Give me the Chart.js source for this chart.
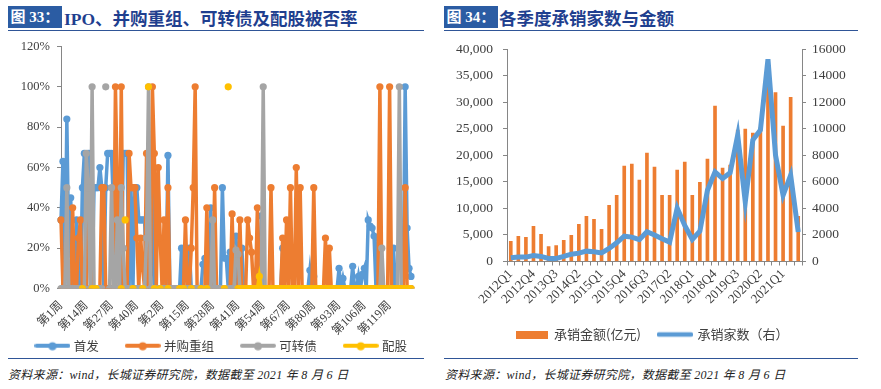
<!DOCTYPE html>
<html lang="zh-CN">
<head>
<meta charset="UTF-8">
<title>IPO、并购重组、可转债及配股被否率 / 各季度承销家数与金额</title>
<script src="https://cdn.jsdelivr.net/npm/chart.js"></script>
<style>
  body { margin: 0; width: 881px; height: 389px; background: #fff; position: relative; overflow: hidden; }
  .rotulo { position: absolute; top: 6px; width: 54px; height: 22px; background: #2b5ca3; color: #fff;
    font: bold 15px "Liberation Serif", "Noto Sans CJK SC", serif; line-height: 22px; text-align: center; }
  .titulo { position: absolute; top: 5px; height: 24px; line-height: 24px; color: #1f3f8f;
    font: bold 17.5px "Liberation Serif", "Noto Sans CJK SC", serif; }
  .regua { position: absolute; height: 0; border-top: 1.5px solid #2f5597; }
  .fonte { position: absolute; top: 365px; color: #222; letter-spacing: 0.3px;
    font: italic 12px "Liberation Serif", "Noto Sans CJK SC", serif; }
  canvas { position: absolute; }
</style>
</head>
<body>
  <div class="rotulo" style="left:8px">图 33：</div>
  <div class="titulo" style="left:64px">IPO、并购重组、可转债及配股被否率</div>
  <div class="regua" style="left:8px; width:416px; top:30px"></div>

  <div class="rotulo" style="left:444px">图 34：</div>
  <div class="titulo" style="left:499px">各季度承销家数与金额</div>
  <div class="regua" style="left:444px; width:414px; top:30px"></div>

  <canvas id="graficoRejeicao" width="440" height="330" style="left:0; top:32px"></canvas>
  <canvas id="graficoSubscricao" width="441" height="320" style="left:440px; top:31px"></canvas>

  <div class="regua" style="left:8px; width:416px; top:358px"></div>
  <div class="regua" style="left:444px; width:414px; top:358px"></div>
  <div class="fonte" style="left:8px">资料来源：wind，长城证券研究院，数据截至 2021 年 8 月 6 日</div>
  <div class="fonte" style="left:445px">资料来源：wind，长城证券研究院，数据截至 2021 年 8 月 6 日</div>

<script>
  // ---- 图33：周度被否率（%）----
  var semanasAno1 = 51;   // 第1周..第51周
  var semanasAno2 = 130;  // 第1周..第130周
  var semanas = [];
  for (var s = 1; s <= semanasAno1; s++) semanas.push("第" + s + "周");
  for (var s = 1; s <= semanasAno2; s++) semanas.push("第" + s + "周");

  var taxaIPO = [
    34, 63, 0, 84, 17, 45, 0, 0, 34, 0,
    0, 50, 67, 0, 67, 67, 0, 50, 50, 50,
    60, 50, 0, 50, 67, 67, 67, 40, 0, 50,
    50, 0, 67, 67, 67, 0, 50, 0, 50, 50,
    34, 34, 34, 34, 0, 0, 0, 67, 0, 0,
    0, 0, 0, 0, 0, 66, 0, 0, 0, 0,
    0, 0, 20, 0, 0, 0, 20, 0, 0, 0,
    0, 0, 0, 12, 15, 0, 0, 40, 0, 0,
    0, 0, 0, 50, 15, 15, 0, 18, 0, 0,
    26, 0, 0, 20, 0, 0, 0, 0, 0, 0,
    0, 0, 0, 36, 0, 0, 0, 0, 0, 0,
    0, 0, 0, 0, 20, 0, 0, 0, 0, 0,
    0, 0, 0, 0, 0, 0, 0, 0, 9, 0,
    6, 0, 0, 0, 0, 0, 0, 0, 0, 0,
    0, 0, 0, 10, 0, 5, 0, 0, 0, 0,
    11, 0, 0, 6, 0, 7, 10, 0, 34, 31,
    30, 26, 0, 25, 0, 0, 0, 0, 0, 0,
    0, 20, 0, 0, 0, 0, 0, 100, 30, 10,
    6
  ];
  var taxaFusoes = [
    34, 0, 0, 0, 0, 0, 40, 0, 0, 25,
    34, 0, 0, 0, 50, 50, 0, 0, 0, 0,
    0, 50, 50, 0, 0, 0, 0, 0, 100, 50,
    0, 100, 0, 0, 0, 67, 50, 50, 50, 25,
    0, 25, 10, 0, 67, 0, 0, 100, 67, 0,
    60, 25, 0, 34, 0, 50, 0, 0, 0, 0,
    0, 0, 0, 0, 34, 0, 0, 20, 50, 100,
    0, 0, 0, 0, 0, 40, 0, 0, 0, 50,
    0, 0, 0, 0, 0, 0, 0, 0, 37, 0,
    0, 0, 34, 0, 0, 0, 34, 25, 18, 0,
    0, 40, 0, 0, 0, 0, 0, 0, 50, 0,
    0, 0, 0, 0, 25, 0, 34, 0, 50, 0,
    0, 60, 0, 50, 0, 0, 0, 0, 0, 0,
    50, 0, 0, 0, 0, 0, 25, 0, 20, 0,
    0, 0, 0, 0, 0, 0, 0, 0, 0, 0,
    0, 0, 0, 0, 0, 0, 0, 0, 0, 0,
    0, 0, 0, 0, 100, 0, 0, 0, 0, 100,
    0, 0, 0, 0, 0, 0, 0, 50, 0, 0,
    0
  ];
  var taxaConversiveis = [
    0, 0, 0, 50, 0, 0, 0, 0, 0, 0,
    0, 0, 0, 67, 50, 0, 100, 0, 0, 0,
    0, 0, null, 100, null, 0, 50, 0, 0, 34,
    0, 50, 20, 0, 0, 0, 0, 0, 0, 0,
    0, 0, 0, 0, 25, 100, 0, 0, 0, 0,
    0, 0, 0, 0, 0, 0, 0, 0, 0, 0,
    0, 0, 0, 0, 0, 0, 0, 0, 0, 0,
    0, 0, 0, 0, 0, 0, 0, 0, 34, 0,
    0, 0, 0, 0, 0, 0, 0, 0, 0, 0,
    19, 17, 0, 0, 0, 0, 0, 0, 0, 0,
    0, 0, 0, 0, 100, 0, 0, 0, 0, 0,
    0, 0, 0, 0, 0, 0, 0, 0, 0, 0,
    0, 0, 0, 0, 0, 0, 0, 0, 0, 0,
    0, 0, 0, 0, 0, 0, 0, 0, 0, 0,
    0, 0, 0, 0, 0, 0, 0, 0, 0, 0,
    0, 0, 0, 0, 0, 0, 0, 0, 0, 0,
    0, 0, 0, 0, 0, 20, 0, 0, 0, 0,
    0, 0, 0, 0, 100, 0, 0, 0, 0, 0,
    0
  ];
  var taxaDireitos = [
    null, null, null, null, null, null, null, null, null, null,
    null, 0, null, null, null, null, 0, null, 0, null,
    null, null, null, null, null, null, null, null, null, null,
    null, 0, null, 34, null, null, null, 0, null, null,
    null, null, 0, null, null, 100, null, null, 0, null,
    null, 0, null, null, null, 0, null, null, null, null,
    null, 0, null, 0, null, null, null, 0, null, null,
    null, null, 0, null, null, 0, null, null, null, null,
    null, null, null, null, 0, null, 100, null, null, null,
    null, 0, 0, 0, 0, 0, 0, 0, 0, 0,
    0, 0, 6, 0, 0, 0, 0, 0, 0, 0,
    0, 0, 0, 0, 0, 0, 0, 0, 0, 0,
    0, 0, 0, 0, 0, 0, 0, 0, 0, 0,
    0, 0, 0, 0, 0, 0, 0, 0, 0, 0,
    0, 0, 0, 0, 0, 0, 0, 0, 0, 0,
    0, 0, 0, 0, 0, 0, 0, 0, 0, 0,
    0, 0, 0, 0, 0, 0, 0, 0, 0, 0,
    0, 0, 0, 0, 0, 0, 0, 0, 0, 0,
    0
  ];

  // ---- 图34：各季度承销 ----
  var trimestres = [
    "2012Q1", "2012Q2", "2012Q3", "2012Q4", "2013Q1", "2013Q2", "2013Q3", "2013Q4",
    "2014Q1", "2014Q2", "2014Q3", "2014Q4", "2015Q1", "2015Q2", "2015Q3", "2015Q4",
    "2016Q1", "2016Q2", "2016Q3", "2016Q4", "2017Q1", "2017Q2", "2017Q3", "2017Q4",
    "2018Q1", "2018Q2", "2018Q3", "2018Q4", "2019Q1", "2019Q2", "2019Q3", "2019Q4",
    "2020Q1", "2020Q2", "2020Q3", "2020Q4", "2021Q1", "2021Q2", "2021Q3"
  ];
  var valorSubscricao = [
    3780, 4720, 4540, 6610, 5100, 2830, 3020, 3970, 4910, 6990,
    8500, 7940, 6050, 10580, 12470, 17950, 18330, 15310, 20410, 17760,
    12470, 12470, 17200, 18710, 12470, 14930, 19280, 29290, 17570, 18140,
    24760, 24950, 24190, 25200, 34000, 31800, 25500, 30900, 8500
  ];
  var numeroSubscricoes = [
    277, 330, 330, 450, 380, 230, 230, 380, 550, 630,
    780, 730, 650, 980, 1410, 1910, 1840, 1640, 2240, 2000,
    1710, 1460, 4030, 2720, 1660, 2290, 5370, 6750, 6250, 6680,
    9520, 4480, 9150, 9900, 15240, 8010, 4990, 6500, 2220
  ];

  var serifa = "'Liberation Serif', 'Noto Sans CJK SC', serif";
  var corTexto = "#404040";
  var corEixo = "#868686";
  var folga = "\u3000\u3000"; // espaço depois do texto da legenda

  function iconeLinha(cor, largura, espessura, marcador) {
    var c = document.createElement("canvas");
    c.width = largura; c.height = 10;
    var g = c.getContext("2d");
    g.strokeStyle = cor; g.lineWidth = espessura; g.lineCap = "round";
    g.beginPath(); g.moveTo(2, 5); g.lineTo(largura - 2, 5); g.stroke();
    if (marcador) {
      g.fillStyle = cor;
      g.beginPath(); g.arc(largura / 2, 5.5, 4, 0, Math.PI * 2); g.fill();
    }
    return c;
  }

  function iconeBarra(cor, largura, altura) {
    var c = document.createElement("canvas");
    c.width = largura; c.height = altura;
    var g = c.getContext("2d");
    g.fillStyle = cor;
    g.fillRect(0, 0, largura, altura);
    return c;
  }

  function serie(nome, dados, cor, ordem) {
    return {
      label: nome,
      data: dados,
      borderColor: cor,
      backgroundColor: cor,
      borderWidth: 3.5,
      pointRadius: 3.6,
      pointBorderWidth: 0,
      pointBackgroundColor: cor,
      tension: 0,
      spanGaps: false,
      order: ordem
    };
  }

  new Chart(document.getElementById("graficoRejeicao"), {
    type: "line",
    data: {
      labels: semanas,
      datasets: [
        serie("首发", taxaIPO, "#5B9BD5", 4),
        serie("并购重组", taxaFusoes, "#ED7D31", 3),
        serie("可转债", taxaConversiveis, "#A5A5A5", 2),
        serie("配股", taxaDireitos, "#FFC000", 1)
      ]
    },
    options: {
      responsive: false,
      animation: false,
      layout: { padding: { top: 0, right: 29, left: 19, bottom: 0 } },
      plugins: {
        tooltip: { enabled: false },
        legend: {
          position: "bottom",
          align: "end",
          labels: {
            usePointStyle: true,
            pointStyleWidth: 30,
            padding: 4,
            color: corTexto,
            font: { family: "'Noto Sans CJK SC', sans-serif", size: 12.5 },
            generateLabels: function (chart) {
              var total = chart.data.datasets.length;
              return chart.data.datasets.map(function (ds, i) {
                return {
                  text: ds.label + (i < total - 1 ? folga : ""),
                  pointStyle: iconeLinha(ds.borderColor, 36, 4, true),
                  fillStyle: ds.borderColor,
                  strokeStyle: ds.borderColor,
                  lineWidth: 0,
                  fontColor: corTexto,
                  hidden: false,
                  datasetIndex: i
                };
              });
            }
          }
        }
      },
      scales: {
        x: {
          offset: false,
          grid: { display: false },
          border: { display: true, color: "#d0d0d0" },
          ticks: {
            autoSkip: false,
            maxRotation: 45,
            minRotation: 45,
            padding: 2,
            color: corTexto,
            font: { family: serifa, size: 12 },
            callback: function (v, i) { return i % 13 === 0 ? semanas[i] : ""; }
          },
          afterFit: function (escala) { escala.height = 47; }
        },
        y: {
          min: 0,
          max: 120,
          grid: { drawOnChartArea: false, drawTicks: true, tickLength: 4, color: corEixo },
          border: { display: true, color: corEixo },
          ticks: {
            stepSize: 20,
            padding: 7,
            color: corTexto,
            font: { family: serifa, size: 12.5 },
            callback: function (v) { return v + "%"; }
          },
          afterFit: function (escala) { escala.width = 42; }
        }
      }
    }
  });

  function milhar(v) {
    return String(v).replace(/\B(?=(\d{3})+(?!\d))/g, ",");
  }

  new Chart(document.getElementById("graficoSubscricao"), {
    type: "bar",
    data: {
      labels: trimestres,
      datasets: [
        {
          type: "bar",
          label: "承销金额(亿元)",
          data: valorSubscricao,
          backgroundColor: "#ED7D31",
          barThickness: 3,
          yAxisID: "y",
          order: 2
        },
        {
          type: "line",
          label: "承销家数（右）",
          data: numeroSubscricoes,
          borderColor: "#5B9BD5",
          backgroundColor: "#5B9BD5",
          borderWidth: 5,
          pointRadius: 0,
          tension: 0,
          yAxisID: "y1",
          order: 1
        }
      ]
    },
    options: {
      responsive: false,
      animation: false,
      layout: { padding: { top: 0, right: 17, left: 0, bottom: 0 } },
      plugins: {
        tooltip: { enabled: false },
        legend: {
          position: "bottom",
          labels: {
            usePointStyle: true,
            pointStyleWidth: 32,
            padding: 18,
            color: corTexto,
            font: { family: "'Noto Sans CJK SC', sans-serif", size: 13 },
            generateLabels: function (chart) {
              var dsBarra = chart.data.datasets[0];
              var dsLinha = chart.data.datasets[1];
              return [
                { text: dsBarra.label, pointStyle: iconeBarra("#ED7D31", 32, 8), fillStyle: "#ED7D31",
                  strokeStyle: "#ED7D31", lineWidth: 0, fontColor: corTexto, hidden: false, datasetIndex: 0 },
                { text: dsLinha.label, pointStyle: iconeLinha("#5B9BD5", 36, 4.5, false), fillStyle: "#5B9BD5",
                  strokeStyle: "#5B9BD5", lineWidth: 0, fontColor: corTexto, hidden: false, datasetIndex: 1 }
              ];
            }
          }
        }
      },
      scales: {
        x: {
          grid: { drawOnChartArea: false, drawTicks: true, tickLength: 4, offset: true, color: corEixo },
          border: { display: true, color: corEixo },
          ticks: {
            autoSkip: false,
            maxRotation: 45,
            minRotation: 45,
            padding: 1,
            color: corTexto,
            font: { family: serifa, size: 13 },
            callback: function (v, i) { return i % 3 === 0 ? trimestres[i] : ""; }
          },
          afterFit: function (escala) { escala.height = 48.5; }
        },
        y: {
          position: "left",
          min: 0,
          max: 40000,
          grid: { drawOnChartArea: false, drawTicks: true, tickLength: 4, color: corEixo },
          border: { display: true, color: corEixo },
          ticks: {
            stepSize: 5000,
            padding: 10,
            color: corTexto,
            font: { family: serifa, size: 13.5 },
            callback: function (v) { return milhar(v); }
          },
          afterFit: function (escala) { escala.width = 67; }
        },
        y1: {
          position: "right",
          min: 0,
          max: 16000,
          grid: { drawOnChartArea: false, drawTicks: true, tickLength: 4, color: corEixo },
          border: { display: true, color: corEixo },
          ticks: {
            stepSize: 2000,
            padding: 6,
            color: corTexto,
            font: { family: serifa, size: 13.5 },
            callback: function (v) { return String(v); }
          },
          afterFit: function (escala) { escala.width = 62; }
        }
      }
    }
  });
</script>
</body>
</html>
